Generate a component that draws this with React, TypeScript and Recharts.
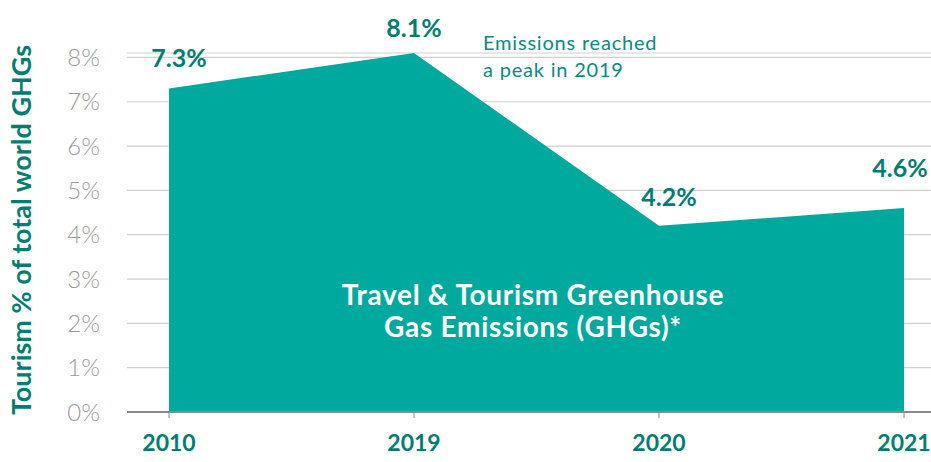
import React from "react";
import { AreaChart, Area, XAxis, YAxis, CartesianGrid, LabelList, Customized } from "recharts";

const years = ["2010", "2019", "2020", "2021"];
const shares = [7.3, 8.1, 4.2, 4.6];
const valueLabels = ["7.3%", "8.1%", "4.2%", "4.6%"];
const yTicks = [0, 1, 2, 3, 4, 5, 6, 7, 8];
const yTitle = "Tourism % of total world GHGs";
const centerLines = ["Travel & Tourism Greenhouse", "Gas Emissions (GHGs)*"];
const noteLines = ["Emissions reached", "a peak in 2019"];

const data = years.map((y, i) => ({ year: y, share: shares[i], label: valueLabels[i] }));

const LABEL_OFFSETS = [
  { dx: 10, dy: -21 },
  { dx: 0, dy: -16 },
  { dx: 10, dy: -20 },
  { dx: -4, dy: -31 },
];

const FONT = "Lato, 'Open Sans', sans-serif";
const FILL = "#00A99D";
const DARK = "#007D70";

const ValueLabel = (props: any) => {
  const { x, y, index, value } = props;
  const o = LABEL_OFFSETS[index] || { dx: 0, dy: -20 };
  return (
    <text
      x={x + o.dx}
      y={y + o.dy}
      textAnchor="middle"
      fill={DARK}
      fontFamily={FONT}
      fontWeight={700}
      fontSize={25}
    >
      {value}
    </text>
  );
};

const Overlay = () => (
  <g>
    <text
      transform="translate(31,230) rotate(-90)"
      textAnchor="middle"
      fill={DARK}
      fontFamily={FONT}
      fontWeight={700}
      fontSize={27}
    >
      {yTitle}
    </text>
    {noteLines.map((t, i) => (
      <text key={t} x={483} y={50 + i * 27} fill="#0A8A7D" fontFamily={FONT} fontSize={20} letterSpacing={0.8}>
        {t}
      </text>
    ))}
  </g>
);

export default function App() {
  return (
    <div style={{ position: "absolute", left: 0, top: 0, width: 931, height: 462, background: "#fff" }}>
      <AreaChart width={931} height={462} data={data} margin={{ top: 53, right: 0, bottom: 0, left: 0 }}>
        <CartesianGrid vertical={false} stroke="#cfcfcf" strokeWidth={1.2} />
        <XAxis
          dataKey="year"
          height={50}
          padding={{ left: 42, right: 27 }}
          axisLine={{ stroke: "#8a8a8a", strokeWidth: 2 }}
          tickLine={{ stroke: "#8a8a8a" }}
          tickSize={6}
          tickMargin={17}
          tick={{ fill: DARK, fontFamily: FONT, fontWeight: 700, fontSize: 23 }}
        />
        <YAxis
          width={127}
          domain={[0, 8]}
          ticks={yTicks}
          interval={0}
          axisLine={false}
          tickLine={false}
          tickSize={0}
          tickMargin={27}
          tickFormatter={(v: number) => `${v}%`}
          tick={{ fill: "#9a9a9a", fontFamily: FONT, fontWeight: 300, fontSize: 24 }}
        />
        <Area
          type="linear"
          dataKey="share"
          stroke="none"
          fill={FILL}
          fillOpacity={1}
          isAnimationActive={false}
        >
          <LabelList dataKey="label" content={ValueLabel} />
        </Area>
        <Customized component={Overlay} />
      </AreaChart>
      <svg
        width={931}
        height={462}
        style={{ position: "absolute", left: 0, top: 0, pointerEvents: "none" }}
      >
        {centerLines.map((t, i) => (
          <text
            key={t}
            x={533}
            y={305 + i * 32}
            textAnchor="middle"
            fill="#ffffff"
            fontFamily={FONT}
            fontWeight={700}
            fontSize={28}
            letterSpacing={0.7}
          >
            {t}
          </text>
        ))}
      </svg>
    </div>
  );
}
